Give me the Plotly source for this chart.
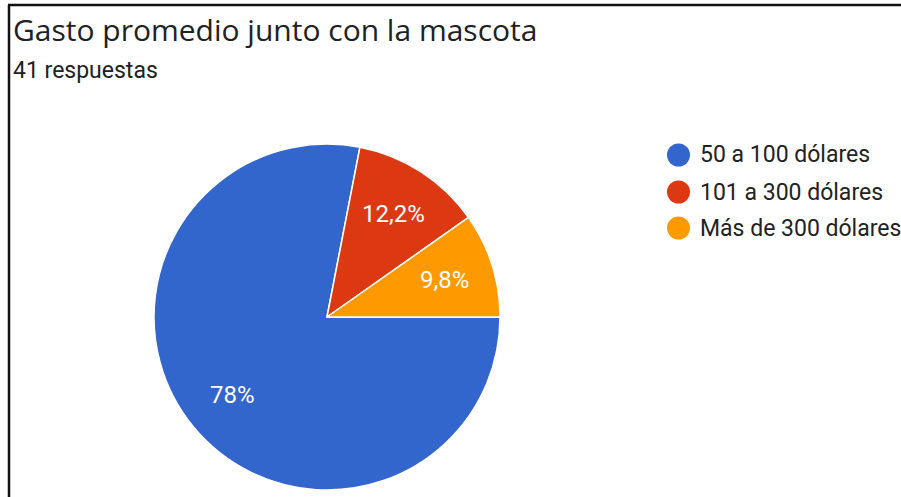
import math
import plotly.graph_objects as go

# Survey answers: "Gasto promedio junto con la mascota"
categories = ["50 a 100 dólares", "101 a 300 dólares", "Más de 300 dólares"]
counts = [32, 5, 4]
colors = ["#3366CC", "#DC3912", "#FF9900"]
title_text = "Gasto promedio junto con la mascota"
subtitle_text = f"{sum(counts)} respuestas"

W, H = 901, 497
# pie geometry in pixels
CX, CY, R = 327, 317, 173
BODY_FONT = "Roboto, Arial, sans-serif"


def px(x):
    return x / W


def py(y):
    return 1 - y / H


def pct_label(v, total):
    p = round(100 * v / total, 1)
    s = f"{p:.1f}".replace(".", ",")
    if s.endswith(",0"):
        s = s[:-2]
    return s + "%"


fig = go.Figure()
fig.add_trace(go.Pie(
    labels=categories,
    values=counts,
    marker=dict(colors=colors, line=dict(color="white", width=1.5)),
    sort=False,
    direction="clockwise",
    rotation=90,
    textinfo="none",
    hoverinfo="label+percent",
    showlegend=False,
    domain=dict(x=[px(CX - R), px(CX + R)], y=[py(CY + R), py(CY - R)]),
))

annotations = []
# percentage labels placed along each slice's middle angle
total = sum(counts)
start = 90.0  # degrees clockwise from 12 o'clock
for v in counts:
    span = 360.0 * v / total
    mid = math.radians(start + span / 2)
    lx = CX + 0.71 * R * math.sin(mid)
    ly = CY - 0.71 * R * math.cos(mid)
    annotations.append(dict(
        x=px(lx), y=py(ly), xref="paper", yref="paper",
        text=pct_label(v, total), showarrow=False,
        font=dict(family=BODY_FONT, size=24, color="white"),
        xanchor="center", yanchor="middle",
    ))
    start += span

# title and subtitle
annotations.append(dict(
    x=px(11), y=py(30), xref="paper", yref="paper", text=title_text,
    showarrow=False, xanchor="left", yanchor="middle",
    font=dict(family="Open Sans, sans-serif", size=30, color="#202124"),
))
annotations.append(dict(
    x=px(11), y=py(71), xref="paper", yref="paper", text=subtitle_text,
    showarrow=False, xanchor="left", yanchor="middle",
    font=dict(family=BODY_FONT, size=23, color="#202124"),
))

# legend with circular swatches
shapes = []
legend_y = [155, 192, 228]
for name, col, ly in zip(categories, colors, legend_y):
    shapes.append(dict(
        type="circle", xref="paper", yref="paper",
        x0=px(667), x1=px(690), y0=py(ly + 11.5), y1=py(ly - 11.5),
        fillcolor=col, line=dict(width=0),
    ))
    annotations.append(dict(
        x=px(698), y=py(ly), xref="paper", yref="paper", text=name,
        showarrow=False, xanchor="left", yanchor="middle",
        font=dict(family=BODY_FONT, size=23, color="#222222"),
    ))

# frame lines along the top and left edges
shapes.append(dict(type="line", xref="paper", yref="paper",
                   x0=px(8), x1=1, y0=py(5), y1=py(5),
                   line=dict(color="#111111", width=2.5)))
shapes.append(dict(type="line", xref="paper", yref="paper",
                   x0=px(9), x1=px(9), y0=py(5), y1=0,
                   line=dict(color="#111111", width=2.5)))

fig.update_layout(
    width=W, height=H,
    margin=dict(l=0, r=0, t=0, b=0),
    paper_bgcolor="white",
    plot_bgcolor="white",
    annotations=annotations,
    shapes=shapes,
)

fig.write_html("out.html")
